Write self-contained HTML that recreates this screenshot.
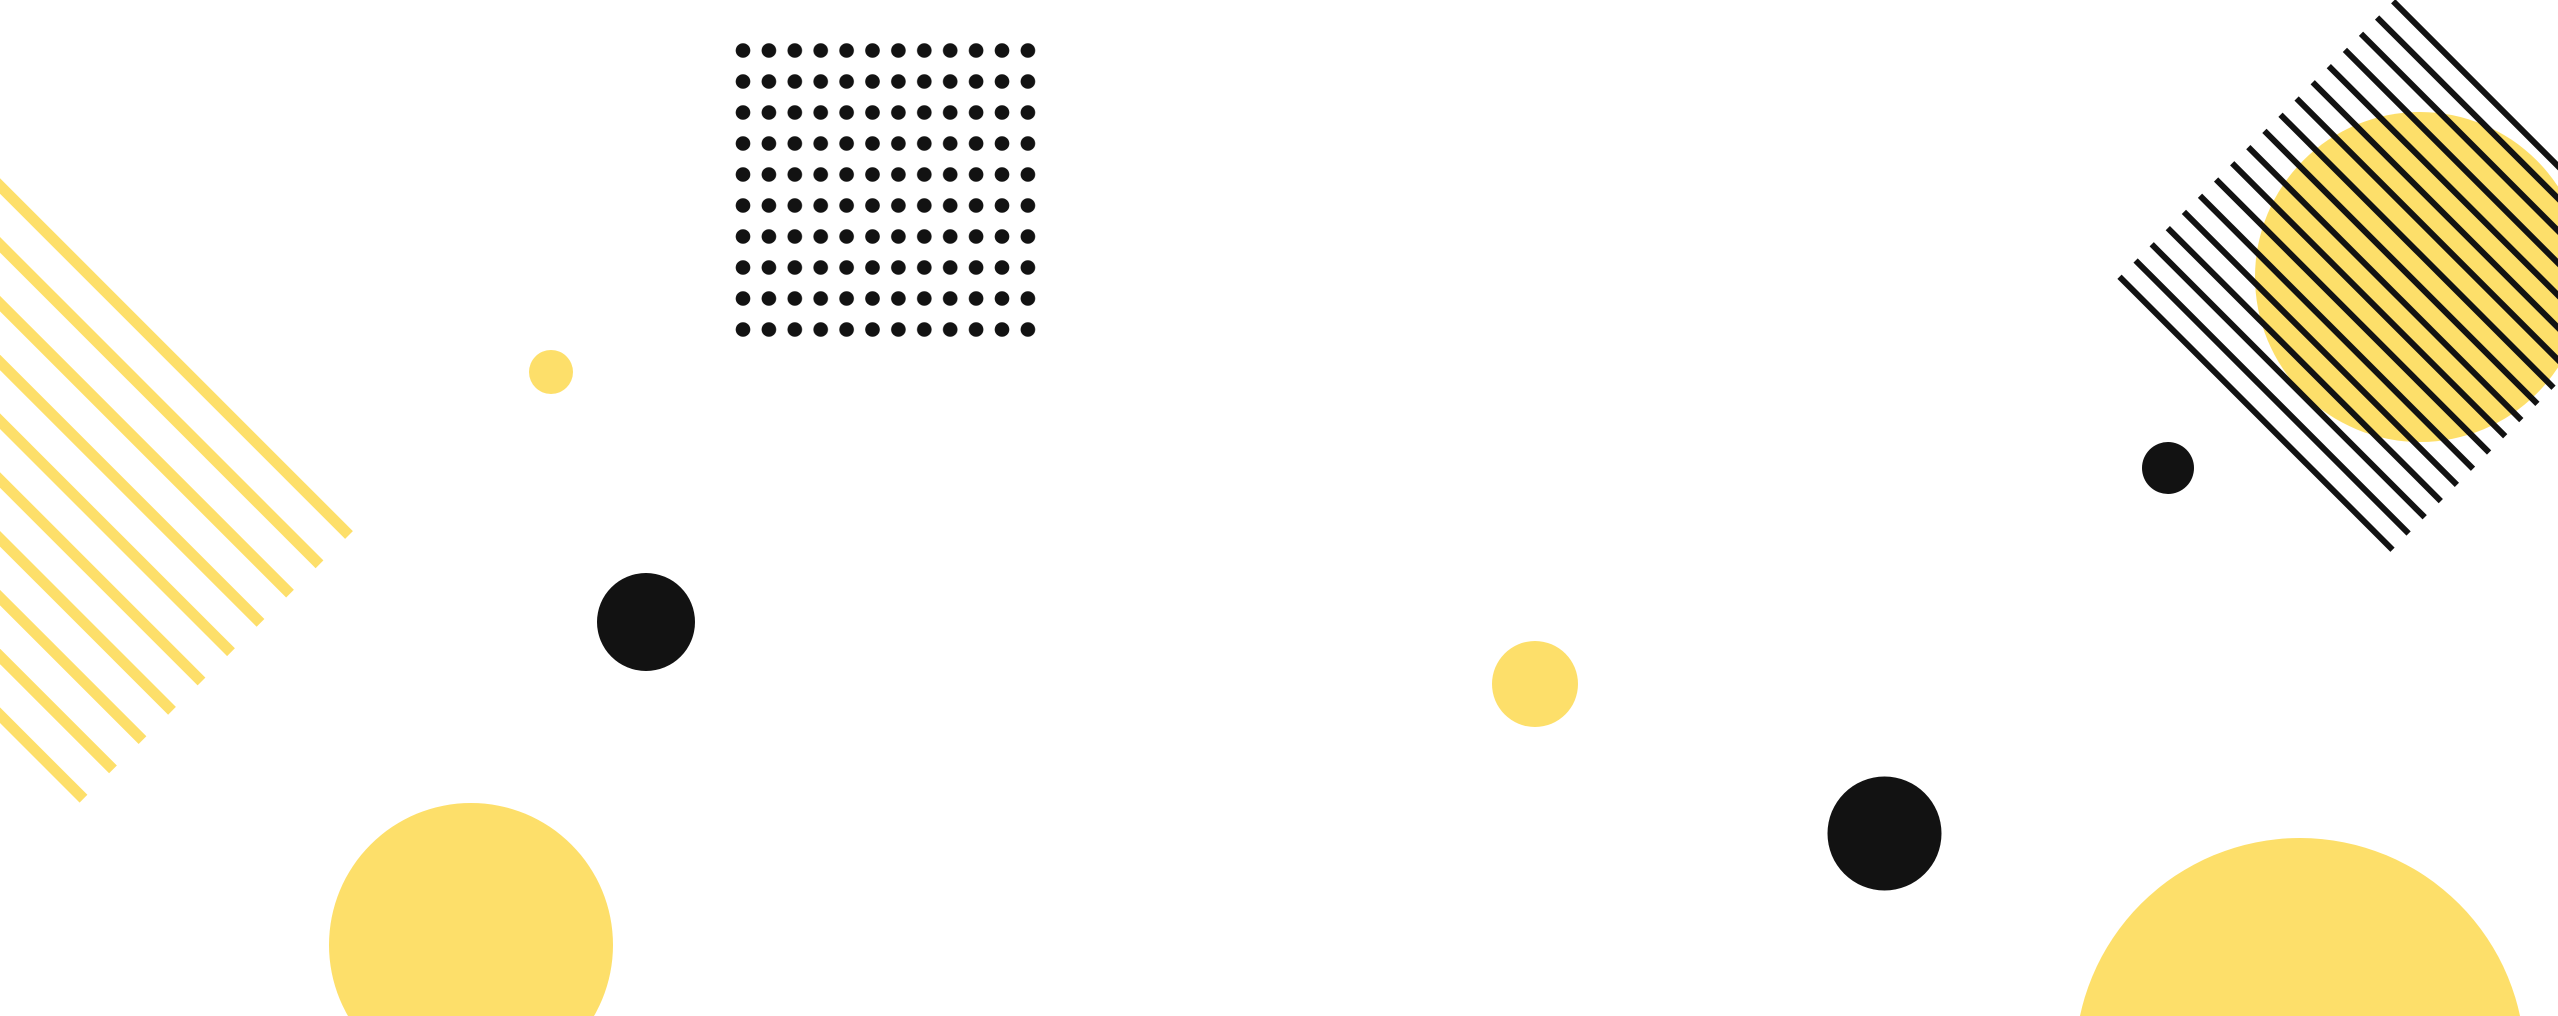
<!DOCTYPE html>
<html><head><meta charset="utf-8"><style>html,body{margin:0;padding:0;background:#fff;overflow:hidden;width:2558px;height:1016px}svg{display:block;position:absolute;left:0;top:0}</style></head>
<body>
<svg width="2558" height="1016" viewBox="0 0 2558 1016" xmlns="http://www.w3.org/2000/svg">
<defs>
<pattern id="dp" x="730.05" y="35" width="25.9" height="31" patternUnits="userSpaceOnUse">
<circle cx="12.95" cy="15.5" r="7.3" fill="#121212"/>
</pattern>
</defs>
<rect width="2558" height="1016" fill="#fff"/>
<rect x="730.05" y="35" width="310.8" height="310" fill="url(#dp)"/>
<g stroke="#FDDF6A" stroke-width="11" stroke-linecap="butt">
<line x1="-401" y1="-215" x2="349" y2="535"/>
<line x1="-430.5" y1="-185.7" x2="319.5" y2="564.3"/>
<line x1="-460" y1="-156.4" x2="290" y2="593.6"/>
<line x1="-489.5" y1="-127.1" x2="260.5" y2="622.9"/>
<line x1="-519" y1="-97.8" x2="231" y2="652.2"/>
<line x1="-548.5" y1="-68.5" x2="201.5" y2="681.5"/>
<line x1="-578" y1="-39.2" x2="172" y2="710.8"/>
<line x1="-607.5" y1="-9.9" x2="142.5" y2="740.1"/>
<line x1="-637" y1="19.4" x2="113" y2="769.4"/>
<line x1="-666.5" y1="48.7" x2="83.5" y2="798.7"/>
</g>
<circle cx="551" cy="372" r="22" fill="#FDDF6A"/>
<circle cx="646" cy="622" r="49" fill="#121212"/>
<circle cx="471" cy="945" r="142" fill="#FDDF6A"/>
<circle cx="2420" cy="277" r="165" fill="#FDDF6A"/>
<g stroke="#121212" stroke-width="6">
<line x1="2119.5" y1="276.7" x2="2392.5" y2="549.7"/>
<line x1="2135.6" y1="260.5" x2="2408.6" y2="533.5"/>
<line x1="2151.7" y1="244.3" x2="2424.7" y2="517.3"/>
<line x1="2167.8" y1="228.1" x2="2440.8" y2="501.1"/>
<line x1="2183.9" y1="211.9" x2="2456.9" y2="484.9"/>
<line x1="2200" y1="195.7" x2="2473" y2="468.7"/>
<line x1="2216.1" y1="179.5" x2="2489.1" y2="452.5"/>
<line x1="2232.2" y1="163.3" x2="2505.2" y2="436.3"/>
<line x1="2248.3" y1="147.1" x2="2521.3" y2="420.1"/>
<line x1="2264.4" y1="130.9" x2="2537.4" y2="403.9"/>
<line x1="2280.5" y1="114.7" x2="2553.5" y2="387.7"/>
<line x1="2296.6" y1="98.5" x2="2569.6" y2="371.5"/>
<line x1="2312.7" y1="82.3" x2="2585.7" y2="355.3"/>
<line x1="2328.8" y1="66.1" x2="2601.8" y2="339.1"/>
<line x1="2344.9" y1="49.9" x2="2617.9" y2="322.9"/>
<line x1="2361" y1="33.7" x2="2634" y2="306.7"/>
<line x1="2377.1" y1="17.5" x2="2650.1" y2="290.5"/>
<line x1="2393.2" y1="1.3" x2="2666.2" y2="274.3"/>
</g>
<circle cx="2168" cy="468" r="26" fill="#121212"/>
<circle cx="1535" cy="684" r="43" fill="#FDDF6A"/>
<circle cx="1884.5" cy="833.5" r="57" fill="#121212"/>
<circle cx="2300" cy="1063" r="225" fill="#FDDF6A"/>
</svg>
</body></html>
